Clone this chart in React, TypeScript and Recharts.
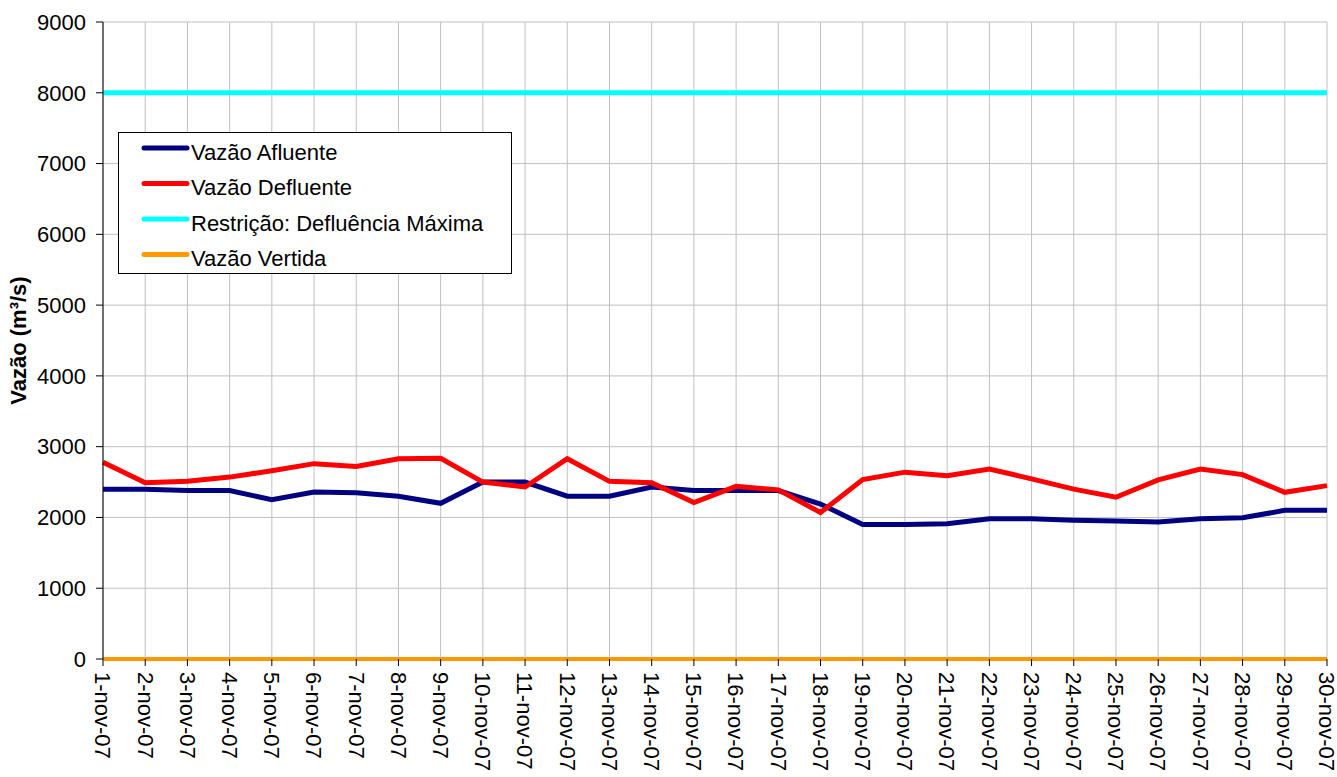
import React from 'react';
import { LineChart, Line, XAxis, YAxis, CartesianGrid, Legend, Label } from 'recharts';

const days: string[] = [
  '1-nov-07','2-nov-07','3-nov-07','4-nov-07','5-nov-07','6-nov-07','7-nov-07','8-nov-07','9-nov-07','10-nov-07',
  '11-nov-07','12-nov-07','13-nov-07','14-nov-07','15-nov-07','16-nov-07','17-nov-07','18-nov-07','19-nov-07','20-nov-07',
  '21-nov-07','22-nov-07','23-nov-07','24-nov-07','25-nov-07','26-nov-07','27-nov-07','28-nov-07','29-nov-07','30-nov-07',
];

const afluente: number[] = [
  2400, 2400, 2380, 2380, 2250, 2360, 2350, 2300, 2200, 2500,
  2500, 2300, 2300, 2430, 2380, 2380, 2380, 2190, 1900, 1900,
  1910, 1980, 1980, 1960, 1950, 1935, 1980, 1995, 2100, 2100,
];

const defluente: number[] = [
  2780, 2490, 2510, 2570, 2660, 2760, 2720, 2830, 2835, 2500,
  2430, 2830, 2510, 2490, 2210, 2440, 2390, 2070, 2535, 2640,
  2590, 2685, 2545, 2400, 2285, 2530, 2685, 2605, 2355, 2450,
];

const restricao: number[] = days.map(() => 8000);
const vertida: number[] = days.map(() => 0);

const yTicks: number[] = [0, 1000, 2000, 3000, 4000, 5000, 6000, 7000, 8000, 9000];

const seriesNames: string[] = ['Vazão Afluente', 'Vazão Defluente', 'Restrição: Defluência Máxima', 'Vazão Vertida'];

const data = days.map((d, i) => ({
  day: d,
  afluente: afluente[i],
  defluente: defluente[i],
  restricao: restricao[i],
  vertida: vertida[i],
}));

const FONT = '"Liberation Sans", Arial, Helvetica, sans-serif';
const FS = 22;

const XTick = (props: any) => {
  const { x, y, payload } = props;
  return (
    <g transform={`translate(${x},${y})`}>
      <text transform="rotate(90)" x={0} y={0} dy="0.35em" textAnchor="start" fill="#000" fontFamily={FONT} fontSize={FS}>
        {payload.value}
      </text>
    </g>
  );
};

const renderLegend = (props: any) => {
  const payload = [...(props.payload || [])].sort(
    (a: any, b: any) => seriesNames.indexOf(a.value) - seriesNames.indexOf(b.value)
  );
  return (
    <svg width={394} height={142} style={{ display: 'block' }}>
      <rect x={0.5} y={0.5} width={393} height={141} fill="#fff" stroke="#000" strokeWidth={1} />
      {payload.map((entry: any, i: number) => {
        const ly = 16 + i * 35.5;
        return (
          <g key={i}>
            <line x1={26} x2={69} y1={ly} y2={ly} stroke={entry.color} strokeWidth={5} strokeLinecap="round" />
            <text x={73} y={ly + 4} dominantBaseline="central" fontFamily={FONT} fontSize={FS} fill="#000">
              {entry.value}
            </text>
          </g>
        );
      })}
    </svg>
  );
};

export default function App() {
  return (
    <div style={{ position: 'absolute', left: 0, top: 0, width: 1337, height: 777, background: '#fff' }}>
      <LineChart width={1337} height={777} data={data} margin={{ top: 22, right: 10, left: 0, bottom: 0 }}>
        <CartesianGrid stroke="#c0c0c0" strokeWidth={1} />
        <XAxis
          dataKey="day"
          height={118}
          interval={0}
          tick={<XTick />}
          tickSize={7}
          tickMargin={6}
          stroke="#000"
          axisLine={false}
          tickLine={{ stroke: '#000' }}
        />
        <XAxis xAxisId="top" dataKey="day" orientation="top" height={0} tick={false} tickLine={false} axisLine={{ stroke: '#808080' }} />
        <YAxis
          domain={[0, 9000]}
          ticks={yTicks}
          width={103}
          interval={0}
          tickSize={7}
          tickMargin={10}
          axisLine={{ stroke: '#000' }}
          tickLine={{ stroke: '#000' }}
          tick={{ fill: '#000', fontFamily: FONT, fontSize: FS }}
        >
          <Label
            content={(p: any) => {
              const vb = p.viewBox;
              const cx = 18;
              const cy = vb.y + vb.height / 2;
              return (
                <text x={cx} y={cy} transform={`rotate(-90, ${cx}, ${cy})`} textAnchor="middle" dominantBaseline="central"
                  fontFamily={FONT} fontSize={FS} fontWeight="bold" fill="#000">
                  Vazão (m³/s)
                </text>
              );
            }}
          />
        </YAxis>
        <YAxis yAxisId="right" orientation="right" width={0} domain={[0, 9000]} tick={false} tickLine={false} axisLine={{ stroke: '#808080', strokeWidth: 2 }} />
        <Legend
          layout="horizontal"
          verticalAlign="middle"
          align="center"
          content={renderLegend}
          wrapperStyle={{ position: 'absolute', left: 118, top: 132, width: 394, height: 142 }}
        />
        <Line type="linear" dataKey="afluente" name={seriesNames[0]} stroke="#000080" strokeWidth={5} dot={false} isAnimationActive={false} />
        <Line type="linear" dataKey="defluente" name={seriesNames[1]} stroke="#FF0000" strokeWidth={5} dot={false} isAnimationActive={false} />
        <Line type="linear" dataKey="restricao" name={seriesNames[2]} stroke="#00FFFF" strokeWidth={5} dot={false} isAnimationActive={false} />
        <Line type="linear" dataKey="vertida" name={seriesNames[3]} stroke="#FF9900" strokeWidth={4} dot={false} isAnimationActive={false} />
      </LineChart>
    </div>
  );
}
